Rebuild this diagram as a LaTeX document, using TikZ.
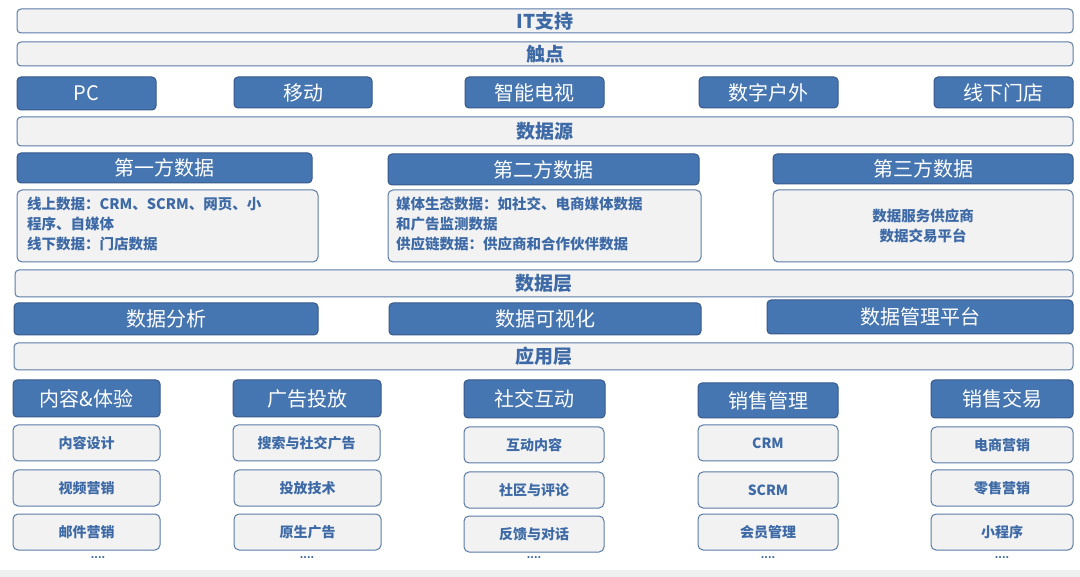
\documentclass[tikz,border=0pt]{standalone}
\usepackage{fontspec}
\setmainfont{Noto Sans CJK SC}
\definecolor{bfill}{HTML}{4676B1}
\definecolor{bline}{HTML}{36598A}
\definecolor{lfill}{HTML}{F2F2F2}
\definecolor{lline}{HTML}{5A7BA6}
\definecolor{ltext}{HTML}{3D6AA6}
\begin{document}
\begin{tikzpicture}[x=1pt,y=-1pt,
  bar/.style={draw=lline,fill=lfill,rounded corners=4pt,line width=1pt},
  bluebox/.style={draw=bline,fill=bfill,rounded corners=4pt,line width=1pt},
  lbox/.style={draw=lline,fill=lfill,rounded corners=5pt,line width=1pt},
  bartxt/.style={text=ltext,font=\fontsize{19}{20}\selectfont\bfseries},
  btxt/.style={text=white,font=\fontsize{20}{22}\selectfont},
  stxt/.style={text=ltext,font=\fontsize{14}{18}\selectfont\bfseries},
  dtxt/.style={text=ltext,font=\fontsize{14.5}{20}\selectfont\bfseries,align=left}]
\useasboundingbox (0,0) rectangle (1080,577);
\fill[white] (0,0) rectangle (1080,577);
\fill[color={rgb,255:red,238;green,240;blue,240}] (0,570) rectangle (1080,577);
% bars
\newcommand{\mybar}[4]{\draw[bar] (17,#1) rectangle (1073,#2) node[bartxt,pos=.5] (#3) {#4};}
\mybar{9}{33}{it}{IT支持}
\mybar{42}{66}{tp}{触点}
\mybar{117}{146}{ds}{数据源}
\draw[bar] (15,270) rectangle (1073,297) node[bartxt,pos=.5] (dl) {数据层};
\draw[bar] (14,343) rectangle (1073,370) node[bartxt,pos=.5] (al) {应用层};
% touch points
\newcommand{\bluebx}[6]{\draw[bluebox] (#1,#2) rectangle (#3,#4) node[btxt,pos=.5] (#5) {#6};}
\bluebx{17}{77}{156}{110}{pc}{PC}
\bluebx{234}{77}{372}{108}{mob}{移动}
\bluebx{465}{77}{604}{108}{tv}{智能电视}
\bluebx{699}{77}{838}{108}{out}{数字户外}
\bluebx{934}{77}{1073}{108}{store}{线下门店}
% data source
\bluebx{17}{153}{312}{183}{d1}{第一方数据}
\bluebx{388}{154}{699}{185}{d2}{第二方数据}
\bluebx{773}{154}{1073}{184}{d3}{第三方数据}
\draw[lbox] (17,190) rectangle (318,262);
\node[dtxt,anchor=north west,inner sep=0pt] (t1) at (27,197) {线上数据：CRM、SCRM、网页、小\\程序、自媒体\\线下数据：门店数据};
\draw[lbox] (388,190) rectangle (701,262);
\node[dtxt,anchor=north west,inner sep=0pt] (t2) at (396,197) {媒体生态数据：如社交、电商媒体数据\\和广告监测数据\\供应链数据：供应商和合作伙伴数据};
\draw[lbox] (773,190) rectangle (1073,262);
\node[dtxt,align=center] (t3) at (923,226) {数据服务供应商\\数据交易平台};
% data layer
\bluebx{14}{303}{318}{335}{da}{数据分析}
\bluebx{389}{303}{701}{335}{dv}{数据可视化}
\bluebx{767}{300}{1073}{334}{dm}{数据管理平台}
% application
\bluebx{13}{380}{160}{417}{a1}{内容\&体验}
\bluebx{233}{380}{381}{417}{a2}{广告投放}
\bluebx{464}{380}{605}{418}{a3}{社交互动}
\bluebx{698}{383}{838}{418}{a4}{销售管理}
\bluebx{931}{380}{1073}{418}{a5}{销售交易}
\newcommand{\subbx}[6]{\draw[lbox] (#1,#2) rectangle (#3,#4) node[stxt,pos=.5] (#5) {#6};}
\subbx{13}{425}{160}{461}{s11}{内容设计}
\subbx{13}{470}{160}{506}{s12}{视频营销}
\subbx{13}{514}{160}{550}{s13}{邮件营销}
\subbx{233}{425}{380}{461}{s21}{搜索与社交广告}
\subbx{234}{470}{381}{506}{s22}{投放技术}
\subbx{234}{514}{381}{550}{s23}{原生广告}
\subbx{464}{427}{604}{463}{s31}{互动内容}
\subbx{464}{472}{604}{508}{s32}{社区与评论}
\subbx{464}{516}{604}{552}{s33}{反馈与对话}
\subbx{698}{425}{838}{461}{s41}{CRM}
\subbx{698}{472}{838}{508}{s42}{SCRM}
\subbx{698}{514}{838}{550}{s43}{会员管理}
\subbx{931}{427}{1073}{463}{s51}{电商营销}
\subbx{931}{470}{1073}{506}{s52}{零售营销}
\subbx{931}{514}{1073}{550}{s53}{小程序}
\foreach \x/\n in {98/e1,307/e2,534/e3,768/e4,1002/e5}
  \node[text=ltext,font=\bfseries\fontsize{10}{10}\selectfont,inner sep=0pt] (\n) at (\x,558) {....};
\end{tikzpicture}
\end{document}
